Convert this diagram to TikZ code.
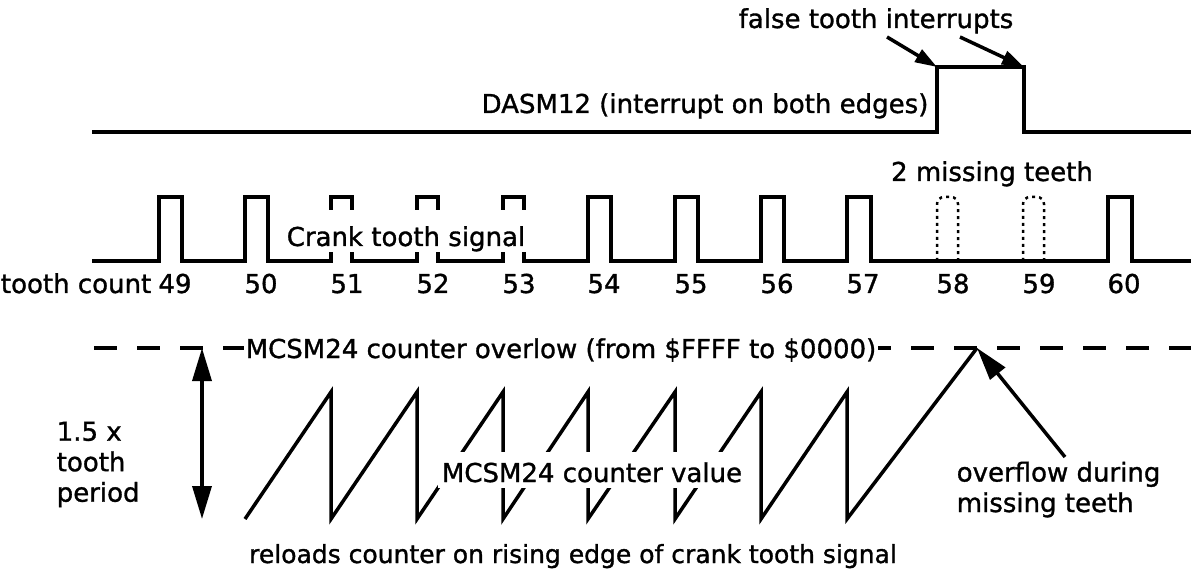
\documentclass[tikz,border=0pt]{standalone}
\usepackage{fontspec}
\setmainfont{DejaVu Sans}[FakeBold=1.2]
\usetikzlibrary{arrows.meta}
\begin{document}
\begin{tikzpicture}[x=1pt,y=-1pt,line width=3.5pt,line join=miter,
  lbl/.style={font=\fontsize{26}{30.5}\selectfont,inner sep=0pt},
  mask/.style={lbl,fill=white,inner xsep=2pt},
  dotline/.style={line width=2.5pt,dash pattern=on 3pt off 4pt,rounded corners=7pt},
  bigtip/.style={-{Triangle[length=33pt,width=19pt]}},
  smalltip/.style={-{Triangle[length=22pt,width=14pt]}}]
\useasboundingbox (0,0) rectangle (1191,577);

% ---------- DASM12 signal ----------
\draw (92,132) -- (937,132) -- (937,67) -- (1024,67) -- (1024,132) -- (1191,132);
\coordinate (fe1) at (937,67);
\coordinate (fe2) at (1024,67);
\node[lbl,anchor=base] (false) at (876,28) {false tooth interrupts};
\node[lbl,anchor=base] (dasm) at (705,113) {DASM12 (interrupt on both edges)};
\coordinate (fs1) at (887,37);
\coordinate (fs2) at (960,37);
\draw[smalltip] (fs1) -- (fe1);
\draw[smalltip] (fs2) -- (fe2);

% ---------- crank tooth signal ----------
\draw (92,261)
  -- (159,261) -- (159,197) -- (182,197) -- (182,261)
  -- (245,261) -- (245,197) -- (268,197) -- (268,261)
  -- (331,261) -- (331,197) -- (352,197) -- (352,261)
  -- (417,261) -- (417,197) -- (438,197) -- (438,261)
  -- (503,261) -- (503,197) -- (524,197) -- (524,261)
  -- (588,261) -- (588,197) -- (611,197) -- (611,261)
  -- (675,261) -- (675,197) -- (698,197) -- (698,261)
  -- (761,261) -- (761,197) -- (784,197) -- (784,261)
  -- (847,261) -- (847,197) -- (871,197) -- (871,261)
  -- (1108,261) -- (1108,197) -- (1132,197) -- (1132,261)
  -- (1191,261);
\draw[dotline] (937,261) -- (937,197) -- (958,197) -- (958,261);
\draw[dotline] (1023,261) -- (1023,197) -- (1044,197) -- (1044,261);
\node[mask,anchor=base,text height=36pt,text depth=6pt] (crank) at (406,246) {Crank tooth signal};
\node[lbl,anchor=base] (missing) at (992,181) {2 missing teeth};

% ---------- tooth count ----------
\node[lbl,anchor=base east] (tc) at (153,293) {tooth count};
\foreach \r/\n in {159/49,245/50,331/51,417/52,503/53,588/54,675/55,761/56,847/57,937/58,1023/59,1108/60}
  \node[lbl,anchor=base] (n\n) at (\r+16,293) {\n};

% ---------- counter ----------
\draw[dash pattern=on 23pt off 20pt] (94,348) -- (1191,348);
\draw (245,519) -- (331,392) -- (331,519) -- (417,392) -- (417,519)
  -- (503,392) -- (503,519) -- (588,392) -- (588,519)
  -- (675,392) -- (675,519) -- (761,392) -- (761,519)
  -- (847,392) -- (847,519) -- (977,348);
\coordinate (ovpeak) at (977,348);
\node[mask,anchor=base,text height=22pt,text depth=7pt] (ovl) at (561,358) {MCSM24 counter overlow (from \$FFFF to \$0000)};
\node[mask,anchor=base,text height=30pt,text depth=6pt,inner xsep=4pt] (val) at (592,482) {MCSM24 counter value};

\coordinate (atop) at (202,348);
\coordinate (abot) at (202,519);
\draw[{Triangle[length=33pt,width=19pt]}-{Triangle[length=33pt,width=19pt]}] (atop) -- (abot);
\node[lbl,align=left,anchor=north west] (period) at (55,420) {1.5 x\\tooth\\period};

\node[lbl,align=left,anchor=north west] (ovtext) at (955,460) {overflow during\\missing teeth};
\coordinate (ovstart) at (1065,457);
\draw[bigtip] (ovstart) -- (ovpeak);

\node[lbl,anchor=base,font=\fontsize{25}{30}\selectfont] (reload) at (573,563) {reloads counter on rising edge of crank tooth signal};
\end{tikzpicture}
\end{document}
